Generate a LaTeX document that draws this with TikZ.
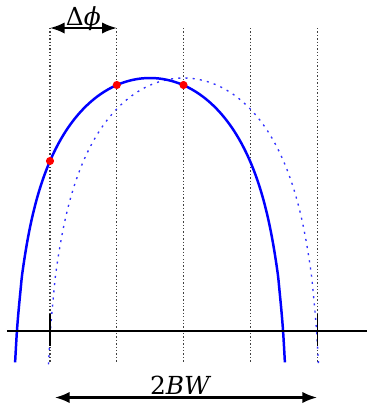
\documentclass[tikz,border=0pt]{standalone}
\usepackage{fontspec}
\setmainfont{DejaVu Serif}
\usepackage{tikz}
\usetikzlibrary{arrows.meta}
\definecolor{azul}{RGB}{0,0,255}
\definecolor{vermelho}{RGB}{255,0,0}

\begin{document}
\begin{tikzpicture}[
    x=0.4425pt, y=-0.4425pt,
    grade/.style={black!75, line width=0.5pt, dash pattern=on 0.6pt off 0.9pt},
    curva/.style={azul, line width=1.1pt, domain=-134.9:134.9, samples=160, smooth},
    curvaP/.style={azul!80, line width=0.6pt, dash pattern=on 0.9pt off 2.3pt, domain=-135:135, samples=160, smooth},
    ponto/.style={circle, fill=vermelho, inner sep=0pt, minimum size=3.6pt},
    rotulo/.style={anchor=base, inner sep=0pt, font=\fontsize{11}{13}\selectfont},
    seta/.style={{Latex[length=6.5pt, width=5pt]}-{Latex[length=6.5pt, width=5pt]}, line width=0.9pt}
  ]
    \useasboundingbox (0,0) rectangle (367,407);
    % linhas verticais
    \foreach \i/\x in {1/50, 2/116.8, 3/183.5, 4/250.3, 5/317.2} {
      \coordinate (t\i) at (\x,28);
      \coordinate (f\i) at (\x,363);
      \draw[grade] (t\i) -- (f\i);
    }
    % feixe deslocado
    \draw[curvaP, shift={(183.5,0)}] plot (\x, {78 - 99.4*ln(cos(\x*90/140))});
    % feixe
    \draw[curva, shift={(150,0)}] plot (\x, {78 - 99.4*ln(cos(\x*90/140))});
    % eixo
    \coordinate (e0) at (7,330.7);
    \coordinate (e1) at (367,330.7);
    \draw[line width=1pt] (e0) -- (e1);
    \draw[line width=0.6pt] (50,314) -- (50,346);
    \draw[line width=0.6pt] (317.2,314) -- (317.2,346);
    % pontos
    \node[ponto] (p1) at (50,161) {};
    \node[ponto] (p2) at (116.8,85) {};
    \node[ponto] (p3) at (183.5,85) {};
    % setas
    \draw[seta] (t1) -- (t2) node[rotulo, midway, yshift=1.3pt] (dphi) {Δ{\itshape ϕ}};
    \coordinate (b1) at (55,397.5);
    \coordinate (b2) at (317,397.5);
    \draw[seta] (b1) -- (b2) node[rotulo, midway, yshift=1.5pt, xshift=-2.7pt] (bw) {2{\itshape BW}};
\end{tikzpicture}
\end{document}
